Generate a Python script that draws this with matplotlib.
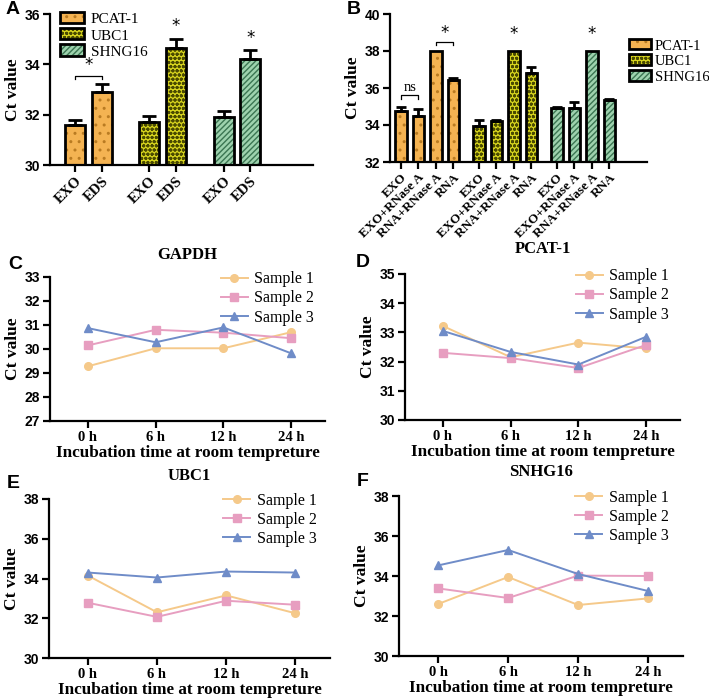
import numpy as np
import matplotlib
matplotlib.use("Agg")
import matplotlib.pyplot as plt
from matplotlib.patches import Patch
from matplotlib.legend_handler import HandlerBase

# ---- data ----
genes = ["PCAT-1", "UBC1", "SHNG16"]
a_labels = ["EXO", "EDS"]
a_means = [[31.6, 32.9], [31.7, 34.65], [31.9, 34.2]]
a_errs = [[0.2, 0.3], [0.25, 0.35], [0.25, 0.35]]

b_labels = ["EXO", "EXO+RNase A", "RNA+RNase A", "RNA"]
b_means = [[34.75, 34.5, 38.0, 36.45], [33.95, 34.2, 38.0, 36.8], [34.9, 34.9, 38.0, 35.35]]
b_errs = [[0.25, 0.35, 0.0, 0.07], [0.3, 0.08, 0.0, 0.35], [0.08, 0.35, 0.0, 0.08]]

times = ["0 h", "6 h", "12 h", "24 h"]
samples = ["Sample 1", "Sample 2", "Sample 3"]
gapdh = [[29.28, 30.03, 30.03, 30.7], [30.15, 30.8, 30.68, 30.45], [30.87, 30.28, 30.9, 29.82]]
pcat = [[33.22, 32.15, 32.65, 32.45], [32.3, 32.12, 31.78, 32.57], [33.05, 32.33, 31.9, 32.85]]
ubc = [[34.15, 32.3, 33.15, 32.25], [32.78, 32.07, 32.88, 32.68], [34.3, 34.05, 34.35, 34.3]]
snhg = [[32.6, 33.95, 32.55, 32.88], [33.38, 32.9, 34.02, 34.0], [34.53, 35.3, 34.1, 33.25]]

# ---- style ----
fills = ["#F4B352", "#D6D31E", "#9ED2AE"]
hatch_cols = ["#B97B22", "#4A4A00", "#3B7552"]
hatches = ["..", "oooo", "//////"]
line_cols = ["#F5C98A", "#E79EC0", "#6F8CC8"]
line_mk = ["o", "s", "^"]
SERIF = "Liberation Serif"
SANS = "Liberation Sans"
plt.rcParams["hatch.linewidth"] = 1.0


def px_ax(fig, l, r, t, b):
    W, H = 709, 700
    return fig.add_axes([l / W, 1 - b / H, (r - l) / W, (b - t) / H])


def style_axes(ax, ysize=10):
    for s in ["top", "right"]:
        ax.spines[s].set_visible(False)
    for s in ["left", "bottom"]:
        ax.spines[s].set_linewidth(1.6)
    ax.tick_params(axis="both", width=1.6, length=5, direction="out", pad=2)
    for lab in ax.get_yticklabels():
        lab.set_fontfamily(SANS)
        lab.set_fontweight("bold")
        lab.set_fontsize(ysize)


def hatched_bar(ax, x, h, w, bottom, i):
    ax.bar(x, h - bottom, w, bottom=bottom, color=fills[i], hatch=hatches[i],
           edgecolor=hatch_cols[i], linewidth=0, zorder=2)
    ax.bar(x, h - bottom, w, bottom=bottom, fill=False, edgecolor="black",
           linewidth=2, zorder=3)


class HatchHandler(HandlerBase):
    def __init__(self, idx):
        super().__init__()
        self.idx = idx

    def create_artists(self, legend, orig, xd, yd, width, height, fontsize, trans):
        i = self.idx
        p1 = plt.Rectangle((xd, yd), width, height, facecolor=fills[i], hatch=hatches[i],
                           edgecolor=hatch_cols[i], linewidth=0, transform=trans)
        p2 = plt.Rectangle((xd, yd), width, height, fill=False, edgecolor="black",
                           linewidth=2, transform=trans)
        return [p1, p2]


def bar_legend(ax, anchor, size=11, hl=1.6, pad=0.4):
    handles = [Patch(label=g) for g in genes]
    ax.legend(handles=handles, labels=genes, loc="upper left", bbox_to_anchor=anchor,
              frameon=False,
              handler_map={h: HatchHandler(i) for i, h in enumerate(handles)},
              prop={"family": SERIF, "size": size}, handlelength=hl, handleheight=0.75,
              handletextpad=pad, labelspacing=0.15, borderaxespad=0, borderpad=0)


def ylab(ax):
    ax.set_ylabel("Ct value", fontfamily=SERIF, fontweight="bold", fontsize=12.5, labelpad=3)


fig = plt.figure(figsize=(7.09, 7.0), dpi=100)

# ---- Panel A ----
axA = px_ax(fig, 50, 313, 14, 165)
xa = []
for g in range(3):
    for j in range(2):
        x = 1.25 + g * 3.72 + j * 1.33
        xa.append(x)
        hatched_bar(axA, x, a_means[g][j], 1.0, 30, g)
        axA.errorbar(x, a_means[g][j], yerr=[[0], [a_errs[g][j]]], color="black",
                     capsize=5, elinewidth=2, capthick=2, zorder=4)
axA.set_xlim(0, 13.15)
axA.set_ylim(30, 36)
axA.set_yticks([30, 32, 34, 36])
axA.set_xticks(xa)
axA.set_xticklabels(a_labels * 3, rotation=45, ha="right", rotation_mode="anchor",
                    fontfamily=SERIF, fontweight="bold", fontsize=10.5)
ylab(axA)
style_axes(axA)
axA.plot([xa[0], xa[0], xa[1], xa[1]], [33.4, 33.55, 33.55, 33.4], color="black", lw=0.9)
axA.text((xa[0] + xa[1]) / 2, 33.62, "*", ha="center", va="bottom", fontsize=12)
axA.text(xa[3], 35.15, "*", ha="center", va="bottom", fontsize=12)
axA.text(xa[5], 34.7, "*", ha="center", va="bottom", fontsize=12)
bar_legend(axA, (0.038, 1.01))

# ---- Panel B ----
axB = px_ax(fig, 390, 647, 14, 162)
xb = []
for g in range(3):
    for j in range(4):
        x = 0.63 + g * 4.46 + j * 1.0
        xb.append(x)
        hatched_bar(axB, x, b_means[g][j], 0.66, 32, g)
        if b_errs[g][j] > 0:
            axB.errorbar(x, b_means[g][j], yerr=[[0], [b_errs[g][j]]], color="black",
                         capsize=3.5, elinewidth=2, capthick=2, zorder=4)
axB.set_xlim(0, 14.7)
axB.set_ylim(32, 40)
axB.set_yticks([32, 34, 36, 38, 40])
axB.set_xticks(xb)
axB.set_xticklabels(b_labels * 3, rotation=45, ha="right", rotation_mode="anchor",
                    fontfamily=SERIF, fontweight="bold", fontsize=9.5)
ylab(axB)
style_axes(axB)
axB.plot([xb[0], xb[0], xb[1], xb[1]], [35.4, 35.6, 35.6, 35.4], color="black", lw=0.9)
axB.text((xb[0] + xb[1]) / 2, 35.65, "ns", ha="center", va="bottom", fontsize=10.5,
         fontfamily=SERIF)
axB.plot([xb[2], xb[2], xb[3], xb[3]], [38.3, 38.5, 38.5, 38.3], color="black", lw=0.9)
axB.text((xb[2] + xb[3]) / 2, 38.5, "*", ha="center", va="bottom", fontsize=12)
axB.text(xb[6], 38.45, "*", ha="center", va="bottom", fontsize=12)
axB.text(xb[10], 38.45, "*", ha="center", va="bottom", fontsize=12)
bar_legend(axB, (0.93, 0.83), size=10.5, hl=1.5, pad=0.25)


# ---- line panels ----
def line_panel(box, data, title, ylim, yticks, t_y):
    ax = px_ax(fig, *box)
    x = np.arange(len(times))
    for i in range(3):
        ax.plot(x, data[i], color=line_cols[i], marker=line_mk[i], ms=5.5, lw=1.4,
                label=samples[i], clip_on=False)
    ax.set_xlim(-0.56, 3.5)
    ax.set_ylim(*ylim)
    ax.set_yticks(yticks)
    ax.set_xticks(x)
    ax.set_xticklabels(times, fontfamily=SERIF, fontweight="bold", fontsize=10.5)
    ylab(ax)
    ax.set_xlabel("Incubation time at room tempreture", fontfamily=SERIF,
                  fontweight="bold", fontsize=12.3, labelpad=1)
    style_axes(ax)
    ax.legend(loc="upper left", bbox_to_anchor=(0.62, 1.04), frameon=False,
              prop={"family": SERIF, "size": 11.5}, handlelength=1.7, handletextpad=0.4,
              labelspacing=0.2, borderaxespad=0, borderpad=0)
    fig.text((box[0] + box[1]) / 2 / 709, 1 - t_y / 700, title, ha="center", va="center",
             fontfamily=SERIF, fontweight="bold", fontsize=12)
    return ax


line_panel((50, 325, 277, 421), gapdh, "GAPDH", (27, 33), range(27, 34), 255)
line_panel((405, 680, 274, 420), pcat, "PCAT-1", (30, 35), range(30, 36), 249)
line_panel((49, 330, 499, 658), ubc, "UBC1", (30, 38), range(30, 39, 2), 476)
line_panel((399, 683, 496, 656), snhg, "SNHG16", (30, 38), range(30, 39, 2), 472)

# ---- panel letters ----
for lab, xp, yp in [("A", 6, 10), ("B", 347, 10), ("C", 8, 264), ("D", 356, 262),
                    ("E", 7, 484), ("F", 357, 482)]:
    fig.text(xp / 709, 1 - yp / 700, lab, ha="left", va="center", fontfamily=SANS,
             fontweight="bold", fontsize=14)

fig.savefig("out.png", dpi=100)
